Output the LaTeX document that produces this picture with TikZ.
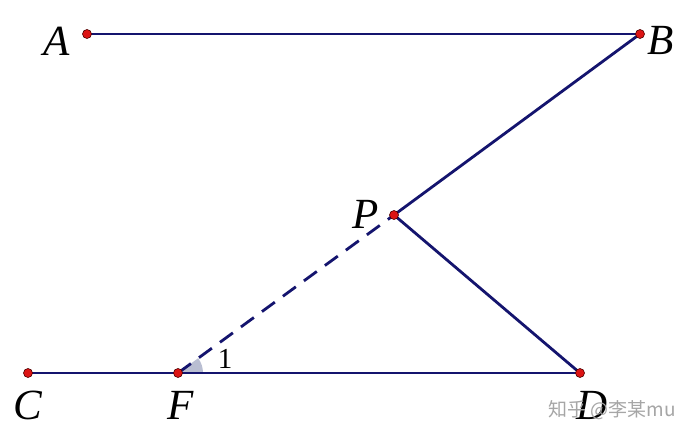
\documentclass[tikz,border=0pt]{standalone}
\usepackage{fontspec}
\setmainfont{Liberation Serif}
\newfontfamily\cjkfont{Noto Sans CJK SC}
\definecolor{navy}{RGB}{20,20,110}
\definecolor{ptred}{RGB}{220,20,20}
\definecolor{angfill}{RGB}{185,190,210}
\begin{document}
\begin{tikzpicture}[x=1pt,y=-1pt,
  seg/.style={draw=navy,line width=2.8pt},
  dseg/.style={draw=navy,line width=2.8pt,dash pattern=on 16pt off 10pt},
  pt/.style={circle,fill=ptred,draw=black!70!red,line width=0.6pt,inner sep=0pt,minimum size=9pt},
  lbl/.style={font=\fontsize{43}{43}\selectfont\itshape,inner sep=0pt},
  wm/.style={font=\cjkfont\fontsize{19}{19}\selectfont,text=black!35,inner sep=0pt}]
\useasboundingbox (0,0) rectangle (693,443);
\fill[white] (0,0) rectangle (693,443);
\coordinate (a) at (87,34);
\coordinate (b) at (640,34);
\coordinate (p) at (394,215);
\coordinate (c) at (28,373);
\coordinate (f) at (178,373);
\coordinate (d) at (580,373);
\fill[angfill] (f) -- ++(25,0) arc[start angle=0,end angle=-36.2,radius=25] -- cycle;
\draw[seg] (a) -- (b);
\draw[seg] (b) -- (p);
\draw[seg] (p) -- (d);
\draw[seg] (c) -- (d);
\draw[dseg] (f) -- (p);
\foreach \q in {a,b,p,c,f,d} \node[pt] at (\q) {};
\node[lbl] (la) at (57,41) {A};
\node[lbl] (lb) at (661,40) {B};
\node[lbl] (lp) at (366,214) {P};
\node[lbl] (lc) at (28,405) {C};
\node[lbl] (lf) at (181,405) {F};
\node[lbl] (ld) at (592,405) {D};
\node[font=\fontsize{29}{29}\selectfont,inner sep=0pt] (l1) at (225,359) {1};
\node[wm] (wm) at (612,410) {知乎 @李某mu};
\end{tikzpicture}
\end{document}
